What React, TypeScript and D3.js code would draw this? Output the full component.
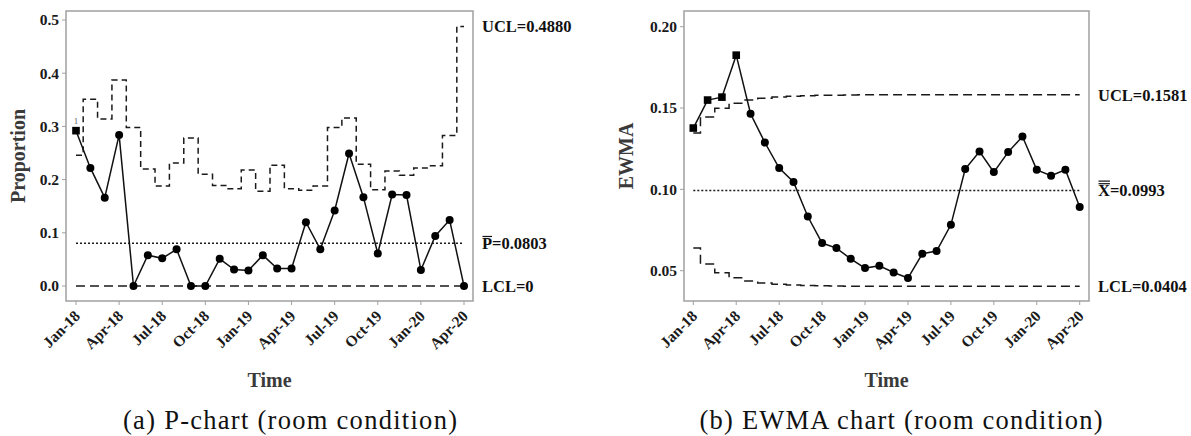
import * as d3 from 'd3';
import React from 'react';

// month labels shown every third month, Jan-18 .. Apr-20 (28 monthly samples)
const tickLabels = ['Jan-18', 'Apr-18', 'Jul-18', 'Oct-18', 'Jan-19', 'Apr-19', 'Jul-19', 'Oct-19', 'Jan-20', 'Apr-20'];
const tickEvery = 3;

// (a) P-chart
const pValues = [0.292, 0.222, 0.166, 0.284, 0, 0.058, 0.052, 0.069, 0, 0, 0.051, 0.031, 0.029, 0.058,
  0.033, 0.033, 0.120, 0.069, 0.142, 0.249, 0.167, 0.061, 0.172, 0.171, 0.030, 0.094, 0.124, 0];
const pUcl = [0.246, 0.351, 0.314, 0.387, 0.298, 0.220, 0.188, 0.231, 0.278, 0.210, 0.189, 0.183, 0.218, 0.178,
  0.227, 0.183, 0.180, 0.188, 0.298, 0.316, 0.229, 0.181, 0.216, 0.208, 0.222, 0.226, 0.283, 0.488];
const pCenter = 0.0803;
const pLcl = 0;
const pTicks = [0, 0.1, 0.2, 0.3, 0.4, 0.5];
const pLabels = ['UCL=0.4880', 'P=0.0803', 'LCL=0'];

// (b) EWMA chart
const ewmaValues = [0.1377, 0.1549, 0.1567, 0.1825, 0.1465, 0.1288, 0.1131, 0.1045, 0.0833, 0.0670, 0.0639, 0.0573,
  0.0516, 0.0530, 0.0489, 0.0455, 0.0604, 0.0621, 0.0782, 0.1125, 0.1233, 0.1106, 0.1229, 0.1325, 0.1120, 0.1084,
  0.1120, 0.0891];
const ewmaUcl = [0.1346, 0.1445, 0.1498, 0.1529, 0.1549, 0.1560, 0.1568, 0.1573, 0.1576, 0.1578, 0.1579, 0.1580,
  0.1581, 0.1581, 0.1581, 0.1581, 0.1581, 0.1581, 0.1581, 0.1581, 0.1581, 0.1581, 0.1581, 0.1581, 0.1581, 0.1581,
  0.1581, 0.1581];
const ewmaLcl = [0.0640, 0.0541, 0.0487, 0.0456, 0.0436, 0.0425, 0.0417, 0.0412, 0.0409, 0.0407, 0.0406, 0.0405,
  0.0404, 0.0404, 0.0404, 0.0404, 0.0404, 0.0404, 0.0404, 0.0404, 0.0404, 0.0404, 0.0404, 0.0404, 0.0404, 0.0404,
  0.0404, 0.0404];
const ewmaCenter = 0.0993;
const ewmaTicks = [0.05, 0.10, 0.15, 0.20];
const ewmaLabels = ['UCL=0.1581', 'X=0.0993', 'LCL=0.0404'];

const serif = "'Liberation Serif', 'Times New Roman', serif";

function Panel({ frame, xr, yDomain, yRange, values, ucl, lcl, center, ticks, fmt, yTitle, titleX,
  labels, bars, uclDash, caption, captionX, captionLen, testMark }) {
  const n = values.length;
  const x = d3.scaleLinear().domain([0, n - 1]).range(xr);
  const y = d3.scaleLinear().domain(yDomain).range(yRange);
  const lclArr: number[] = Array.isArray(lcl) ? lcl : values.map(() => lcl);
  const step = d3.line<number>().x((_, i) => x(i)).y(d => y(d)).curve(d3.curveStep);
  const line = d3.line<number>().x((_, i) => x(i)).y(d => y(d));
  const format = d3.format(fmt);
  const gray = '#a0a0a0';
  const labelVals = [ucl[n - 1], center, lclArr[n - 1]];
  const fs = 16.5;

  return (
    <g>
      <rect x={frame.l} y={frame.t} width={frame.r - frame.l} height={frame.b - frame.t}
        fill="white" stroke={gray} strokeWidth={1.5} />
      {ticks.map(t => (
        <g key={t}>
          <line x1={frame.l - 4} x2={frame.l} y1={y(t)} y2={y(t)} stroke={gray} />
          <text x={frame.l - 7} y={y(t)} dy="0.35em" textAnchor="end" fontFamily={serif}
            fontWeight="bold" fontSize={15.5} fill="#1a1a1a">{format(t)}</text>
        </g>
      ))}
      {tickLabels.map((lab, k) => (
        <g key={lab}>
          <line x1={x(k * tickEvery)} x2={x(k * tickEvery)} y1={frame.b} y2={frame.b + 4} stroke={gray} />
          <text transform={`translate(${x(k * tickEvery) + 5},${frame.b + 16}) rotate(-45)`} textAnchor="end"
            fontFamily={serif} fontWeight="bold" fontSize={15.5} fill="#1a1a1a">{lab}</text>
        </g>
      ))}
      <text transform={`translate(${titleX},${(frame.t + frame.b) / 2}) rotate(-90)`} textAnchor="middle"
        fontFamily={serif} fontWeight="bold" fontSize={20} fill="#3a3a3a">{yTitle}</text>
      <text x={(frame.l + frame.r) / 2} y={387} textAnchor="middle" fontFamily={serif} fontWeight="bold"
        fontSize={20} fill="#3a3a3a">Time</text>

      <path d={step(ucl)} fill="none" stroke="#1a1a1a" strokeWidth={1.5} strokeDasharray={uclDash} />
      {Array.isArray(lcl)
        ? <path d={step(lclArr)} fill="none" stroke="#1a1a1a" strokeWidth={1.5} strokeDasharray={uclDash} />
        : <line x1={x(0)} x2={x(n - 1)} y1={y(lcl)} y2={y(lcl)} stroke="#1a1a1a" strokeWidth={1.5}
          strokeDasharray="9,5" />}
      <line x1={x(0)} x2={x(n - 1)} y1={y(center)} y2={y(center)} stroke="#1a1a1a" strokeWidth={1.4}
        strokeDasharray="2,2" />

      <path d={line(values)} fill="none" stroke="#111" strokeWidth={1.5} />
      {values.map((v, i) => {
        const out = v > ucl[i] || v < lclArr[i];
        return out
          ? <g key={i}>
            <rect x={x(i) - 3.8} y={y(v) - 3.8} width={7.6} height={7.6} fill="#000" />
            {testMark && <text x={x(i)} y={y(v) - 7} textAnchor="middle" fontFamily={serif} fontSize={9}
              fill="#666">1</text>}
          </g>
          : <circle key={i} cx={x(i)} cy={y(v)} r={4} fill="#000" />;
      })}

      {labels.map((lab, k) => (
        <g key={lab}>
          <text x={frame.r + 9} y={y(labelVals[k])} dy="0.35em" fontFamily={serif} fontWeight="bold"
            fontSize={fs} fill="#111">{lab}</text>
          {k === 1 && d3.range(bars).map(b => (
            <line key={b} x1={frame.r + 9.5} x2={frame.r + 9 + (bars === 1 ? 0.611 : 0.722) * fs}
              y1={y(labelVals[k]) - 6.8 - b * 2.6} y2={y(labelVals[k]) - 6.8 - b * 2.6}
              stroke="#111" strokeWidth={1.2} />
          ))}
        </g>
      ))}

      <text x={captionX} y={429} textAnchor="middle" fontFamily={serif} fontSize={26.5} fill="#111"
        textLength={captionLen} lengthAdjust="spacing">{caption}</text>
    </g>
  );
}

export default function App() {
  return (
    <div style={{ position: 'absolute', left: 0, top: 0 }}>
      <svg width={1191} height={436} style={{ display: 'block', background: 'white' }}>
        <Panel frame={{ l: 66, t: 11, r: 473, b: 301 }} xr={[76, 464]} yDomain={[0, 0.5]} yRange={[286, 20]}
          values={pValues} ucl={pUcl} lcl={pLcl} center={pCenter} ticks={pTicks} fmt=".1f"
          yTitle="Proportion" titleX={25} labels={pLabels} bars={1} uclDash="6,4"
          caption="(a) P-chart (room condition)" captionX={290} captionLen={334} testMark={true} />
        <Panel frame={{ l: 684, t: 11, r: 1089, b: 301 }} xr={[693.3, 1079.7]} yDomain={[0.05, 0.2]}
          yRange={[270.7, 26.7]} values={ewmaValues} ucl={ewmaUcl} lcl={ewmaLcl} center={ewmaCenter}
          ticks={ewmaTicks} fmt=".2f" yTitle="EWMA" titleX={633} labels={ewmaLabels} bars={2} uclDash="9,5"
          caption="(b) EWMA chart (room condition)" captionX={901} captionLen={403} testMark={false} />
      </svg>
    </div>
  );
}
